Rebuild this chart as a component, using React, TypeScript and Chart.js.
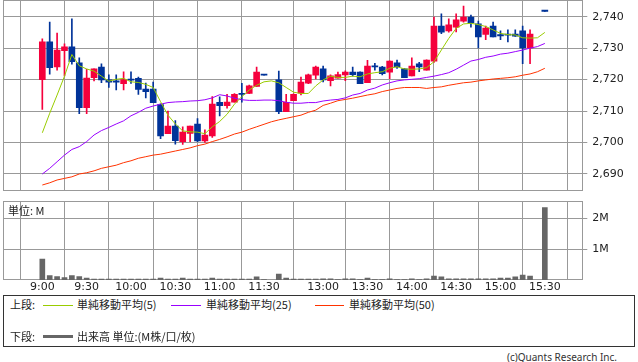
import React, { useEffect, useRef } from "react";
import { Chart, registerables } from "chart.js";

Chart.register(...registerables);

// ---- data ----
const timeLabels = ["9:00", "9:30", "10:00", "10:30", "11:00", "11:30", "13:00", "13:30", "14:00", "14:30", "15:00", "15:30"];
const timeTickIndex = [0, 6, 12, 18, 24, 30, 38, 44, 50, 56, 62, 68];
const priceTicks = [2690, 2700, 2710, 2720, 2730, 2740];
const volumeTicks = [1, 2];

const opens = [
  2720, 2732, 2724, 2729.2, 2730.4, 2725.3, 2711.1, 2720.6, 2724, 2719.9,
  2719.3, 2718.7, 2719.9, 2720.4, 2717, 2717, 2712.1, 2702.8, 2705.2, 2700.3,
  2702.9, 2705.9, 2700.5, 2702.1, 2712.8, 2711.7, 2712.8, 2715.4, 2715.6, 2717.8,
  2721.4, null, 2719.9, 2709.8, 2713.3, 2715.7, 2718.9, 2721.4, 2723.4, 2719.7,
  2720.5, 2721.5, 2722.4, 2722.4, 2719, 2724.1, 2724, 2722.4, 2725.3, 2723.4,
  2721.2, 2725, 2723, 2725.9, 2737, 2735.5, 2736.7, 2738.6, 2739.9, 2737.7,
  2734.4, 2737, 2734, 2734.2, 2734.5, 2735.5, 2730.1, null, 2741.7,
];
const highs = [
  2733, 2738.3, 2734.8, 2731.4, 2739.3, 2726.9, 2723.3, 2723.4, 2725, 2721.5,
  2721.5, 2722.5, 2722.5, 2720.8, 2718.9, 2719.2, 2712.3, 2710, 2707, 2705,
  2705.2, 2707.6, 2704, 2714.6, 2714.5, 2715.3, 2715.6, 2718.8, 2718.3, 2724,
  2721.4, null, 2722.7, 2715.3, 2715.5, 2720.8, 2721.8, 2724.3, 2724.3, 2721.5,
  2722.4, 2722.8, 2724, 2722.5, 2726.1, 2725.2, 2724.2, 2726, 2726.2, 2723.5,
  2726.9, 2725.5, 2726.3, 2739.9, 2740.9, 2739.3, 2740.9, 2743.4, 2740.5, 2738.6,
  2737, 2738.3, 2735.5, 2735.8, 2735.8, 2737, 2735.8, null, 2741.7,
];
const lows = [
  2710.5, 2721.7, 2723, 2721.2, 2724.9, 2709.2, 2709.2, 2719.6, 2719, 2717.5,
  2716.7, 2716.7, 2718.8, 2715.3, 2714.2, 2712.7, 2701.2, 2702.8, 2699.5, 2699.4,
  2700.3, 2700.3, 2700, 2701.6, 2708.5, 2710.9, 2712.8, 2712.8, 2715.5, 2717.8,
  2721.4, null, 2709.2, 2709.8, 2713.3, 2715.1, 2718.7, 2720.2, 2719.3, 2718,
  2720.5, 2719.7, 2721.1, 2718.7, 2719, 2723, 2721.5, 2720.3, 2723.6, 2720.6,
  2721.2, 2722.5, 2723, 2725.5, 2734.6, 2735.1, 2735.2, 2738.3, 2736.7, 2730.1,
  2732.7, 2733.6, 2732.7, 2732, 2733.7, 2725.1, 2725.1, null, 2741.7,
];
const closes = [
  2732, 2723.8, 2729.4, 2730.4, 2725.7, 2711.1, 2720.5, 2723.4, 2719.9, 2719.2,
  2719.2, 2720, 2719.8, 2716.9, 2716.2, 2712.7, 2702.1, 2705.2, 2700.6, 2703.3,
  2705.2, 2700.5, 2702.4, 2712.2, 2711.7, 2712.9, 2715.3, 2715.3, 2718, 2722.4,
  2721.4, null, 2709.8, 2712.8, 2715.3, 2719.2, 2721.5, 2724, 2719.9, 2721.2,
  2721.6, 2722.4, 2721.6, 2718.7, 2724.3, 2724, 2721.9, 2725.9, 2724, 2720.6,
  2724.3, 2724, 2726.2, 2737, 2735.1, 2737.4, 2739, 2739.9, 2738, 2733.6,
  2736.4, 2733.6, 2733.9, 2734.1, 2733.8, 2730.1, 2734.5, null, 2741.7,
];
const ma5 = [
  2703.1, 2709.3, 2715.1, 2721.1, 2728.0, 2724.4, 2723.4, 2722.7, 2721.1, 2719.5,
  2720.1, 2720.4, 2719.3, 2719.1, 2718.5, 2717.5, 2713.0, 2708.7, 2705.9, 2703.7,
  2703.4, 2703.3, 2702.8, 2705.0, 2706.7, 2709.0, 2712.2, 2714.6, 2716.7, 2718.2,
  2719.3, 2719.6, 2719.0, 2717.5, 2716.0, 2715.6, 2715.6, 2718.0, 2719.9, 2721.1,
  2720.7, 2720.7, 2721.1, 2720.9, 2721.8, 2722.2, 2722.5, 2723.6, 2724.1, 2723.4,
  2723.3, 2723.4, 2723.8, 2725.7, 2729.4, 2733.1, 2736.3, 2737.7, 2737.9, 2737.5,
  2736.9, 2735.8, 2734.7, 2734.3, 2734.2, 2733.3, 2733.2, 2733.3, 2735.0,
];
const ma25 = [
  2690.0, 2691.8, 2693.9, 2696.0, 2697.8, 2698.7, 2700.3, 2702.4, 2703.8, 2704.8,
  2705.9, 2706.9, 2708.5, 2709.6, 2710.9, 2711.6, 2712.2, 2712.7, 2712.9, 2713.0,
  2713.2, 2713.3, 2713.6, 2714.2, 2715.2, 2714.8, 2714.1, 2713.6, 2713.4, 2713.4,
  2713.5, 2713.5, 2713.3, 2712.8, 2712.5, 2712.5, 2712.7, 2712.7, 2713.2, 2713.5,
  2713.7, 2714.2, 2715.1, 2715.6, 2716.7, 2717.3, 2718.3, 2719.0, 2719.6, 2719.9,
  2720.1, 2720.3, 2720.7, 2721.1, 2721.6, 2722.2, 2723.3, 2724.6, 2725.9, 2726.4,
  2727.1, 2727.5, 2728.1, 2728.4, 2728.9, 2729.4, 2730.0, 2730.5, 2731.5,
];
const ma50 = [
  2686.5, 2687.2, 2688.1, 2688.6, 2689.1, 2690.0, 2690.4, 2691.0, 2691.8, 2692.3,
  2692.8, 2693.6, 2694.2, 2695.0, 2695.5, 2696.0, 2696.3, 2696.8, 2697.3, 2697.8,
  2698.3, 2699.0, 2699.5, 2700.3, 2701.0, 2701.8, 2702.7, 2703.3, 2704.2, 2705.0,
  2705.8, 2706.6, 2707.2, 2707.7, 2708.2, 2708.7, 2709.6, 2710.3, 2711.8, 2712.5,
  2713.3, 2713.7, 2714.1, 2714.6, 2715.1, 2715.5, 2716.2, 2716.7, 2717.2, 2717.5,
  2717.5, 2717.5, 2717.2, 2717.5, 2717.7, 2718.2, 2718.6, 2719.0, 2719.2, 2719.6,
  2719.9, 2720.2, 2720.4, 2720.6, 2720.9, 2721.4, 2721.8, 2722.5, 2723.6,
];
const volumes = [
  0.68, 0.14, 0.11, 0.075, 0.14, 0.11, 0.065, 0.03, 0.03, 0.03,
  0.03, 0.03, 0.03, 0.03, 0.03, 0.03, 0.065, 0.03, 0.03, 0.065,
  0.03, 0.03, 0.03, 0.065, 0.03, 0.03, 0.03, 0.03, 0.03, 0.1,
  0.01, null, 0.19, 0.065, 0.03, 0.03, 0.03, 0.03, 0.035, 0.035,
  0.01, 0.035, 0.035, 0.01, 0.065, 0.01, 0.01, 0.035, 0.01, 0.01,
  0.035, 0.01, 0.035, 0.13, 0.1, 0.035, 0.035, 0.035, 0.035, 0.035,
  0.035, 0.035, 0.065, 0.065, 0.1, 0.16, 0.13, null, 2.35,
];

// ---- styles ----
const GRID = "#999999";
const UP = "#f5003c";
const DOWN = "#003399";
const C_MA5 = "#99cc00";
const C_MA25 = "#9900ff";
const C_MA50 = "#ff3300";
const VOL = "#666666";
const X_MIN = -5.28;
const X_MAX = 73.07;
const AXIS_W = 55.7;
const NUM_FONT = { family: "DejaVu Sans", size: 11 };
const CJK = "'Noto Sans CJK JP', 'Noto Sans', sans-serif";

const frame = {
  id: "frame",
  beforeDatasetsDraw(chart: any) {
    const { ctx, chartArea: a } = chart;
    ctx.save();
    ctx.strokeStyle = GRID;
    ctx.lineWidth = 1;
    const l = Math.round(a.left) + 0.5;
    const t = Math.round(a.top) + 0.5;
    const r = Math.round(a.right) + 0.5;
    const b = Math.round(a.bottom) - 0.5;
    ctx.strokeRect(l, t, r - l, b - t);
    ctx.restore();
  },
};

function candleColor(i: number) {
  return (closes[i] as number) > (opens[i] as number) ? UP : DOWN;
}

export default function App() {
  const priceRef = useRef<HTMLCanvasElement>(null);
  const volRef = useRef<HTMLCanvasElement>(null);

  useEffect(() => {
    const idx = opens.map((_, i) => i).filter((i) => opens[i] !== null);
    const colors = idx.map((i) => candleColor(i));

    const price = new Chart(priceRef.current as HTMLCanvasElement, {
      type: "bar",
      data: {
        datasets: [
          {
            type: "line",
            data: ma5.map((v, i) => ({ x: i, y: v })),
            borderColor: C_MA5,
            borderWidth: 1,
            pointRadius: 0,
            tension: 0,
            order: 0,
          } as any,
          {
            type: "line",
            data: ma25.map((v, i) => ({ x: i, y: v })),
            borderColor: C_MA25,
            borderWidth: 1,
            pointRadius: 0,
            tension: 0,
            order: 0,
          } as any,
          {
            type: "line",
            data: ma50.map((v, i) => ({ x: i, y: v })),
            borderColor: C_MA50,
            borderWidth: 1,
            pointRadius: 0,
            tension: 0,
            order: 0,
          } as any,
          {
            type: "bar",
            data: idx.map((i) => ({ x: i, y: [opens[i], closes[i]] })),
            backgroundColor: colors,
            borderWidth: 0,
            barThickness: 6,
            minBarLength: 1.2,
            grouped: false,
            order: 1,
          } as any,
          {
            type: "bar",
            data: idx.map((i) => ({ x: i, y: [lows[i], highs[i]] })),
            backgroundColor: colors,
            borderWidth: 0,
            barThickness: 1,
            minBarLength: 1,
            grouped: false,
            order: 2,
          } as any,
        ],
      },
      options: {
        responsive: false,
        animation: false,
        events: [],
        layout: { padding: { left: 3.3, top: 0, right: 0, bottom: 1.3 } },
        plugins: { legend: { display: false }, tooltip: { enabled: false } },
        scales: {
          x: {
            type: "linear",
            min: X_MIN,
            max: X_MAX,
            offset: false,
            afterBuildTicks: (s: any) => {
              s.ticks = timeTickIndex.map((v) => ({ value: v }));
            },
            ticks: { display: false },
            grid: { color: GRID, drawTicks: false, lineWidth: 1 },
            border: { display: false },
            afterFit: (s: any) => {
              s.height = 0;
              s.paddingLeft = 0;
              s.paddingRight = 0;
            },
          },
          y: {
            position: "right",
            min: 2684.69,
            max: 2745.31,
            afterBuildTicks: (s: any) => {
              s.ticks = priceTicks.map((v) => ({ value: v }));
            },
            ticks: {
              color: "#222",
              font: NUM_FONT,
              padding: 5,
              callback: (v: any) => Number(v).toLocaleString("en-US"),
            },
            grid: { color: GRID, tickLength: 5, lineWidth: 1 },
            border: { display: false },
            afterFit: (s: any) => {
              s.width = AXIS_W;
              s.paddingTop = 0;
              s.paddingBottom = 0;
            },
          },
        },
      } as any,
      plugins: [frame],
    });

    const vidx = volumes.map((_, i) => i).filter((i) => volumes[i] !== null);
    const vol = new Chart(volRef.current as HTMLCanvasElement, {
      type: "bar",
      data: {
        datasets: [
          {
            data: vidx.map((i) => ({ x: i, y: volumes[i] })),
            backgroundColor: VOL,
            borderWidth: 0,
            barThickness: 5,
          },
        ],
      },
      options: {
        responsive: false,
        animation: false,
        events: [],
        layout: { padding: { left: 3.3, top: 6, right: 0, bottom: 0 } },
        plugins: { legend: { display: false }, tooltip: { enabled: false } },
        scales: {
          x: {
            type: "linear",
            min: X_MIN,
            max: X_MAX,
            offset: false,
            afterBuildTicks: (s: any) => {
              s.ticks = timeTickIndex.map((v) => ({ value: v }));
            },
            ticks: {
              color: "#222",
              font: NUM_FONT,
              padding: 1,
              maxRotation: 0,
              autoSkip: false,
              callback: (v: any) => {
                const k = timeTickIndex.indexOf(Number(v));
                return k >= 0 ? timeLabels[k] : "";
              },
            },
            grid: { color: GRID, drawTicks: false, lineWidth: 1 },
            border: { display: false },
            afterFit: (s: any) => {
              s.height = 15;
              s.paddingLeft = 0;
              s.paddingRight = 0;
            },
          },
          y: {
            position: "right",
            min: 0,
            max: 2.56,
            afterBuildTicks: (s: any) => {
              s.ticks = volumeTicks.map((v) => ({ value: v }));
            },
            ticks: {
              color: "#222",
              font: NUM_FONT,
              padding: 5,
              callback: (v: any) => v + "M",
            },
            grid: { color: GRID, tickLength: 5, lineWidth: 1 },
            border: { display: false },
            afterFit: (s: any) => {
              s.width = AXIS_W;
              s.paddingTop = 0;
              s.paddingBottom = 0;
            },
          },
        },
      } as any,
      plugins: [frame],
    });

    return () => {
      price.destroy();
      vol.destroy();
    };
  }, []);

  const txt: React.CSSProperties = {
    position: "absolute",
    fontFamily: CJK,
    fontSize: 11,
    lineHeight: "13px",
    color: "#222",
    whiteSpace: "nowrap",
  };
  const line = (left: number, top: number, width: number, color: string, h = 1): React.CSSProperties => ({
    position: "absolute",
    left,
    top,
    width,
    height: h,
    background: color,
  });

  return (
    <div
      style={{
        position: "fixed",
        left: 0,
        top: 0,
        width: 638,
        height: 362,
        background: "#fff",
        overflow: "hidden",
      }}
    >
      <canvas
        ref={priceRef}
        width={638}
        height={192}
        style={{ position: "absolute", left: 0, top: 0, display: "block" }}
      />
      <canvas
        ref={volRef}
        width={638}
        height={100}
        style={{ position: "absolute", left: 0, top: 195, display: "block" }}
      />
      <div style={{ ...txt, left: 8, top: 204 }}>単位: M</div>

      <div
        style={{
          position: "absolute",
          left: 3,
          top: 295,
          width: 632,
          height: 52,
          border: "1px solid #333",
          boxSizing: "border-box",
        }}
      />
      <div style={{ ...txt, left: 10, top: 298 }}>上段:</div>
      <div style={line(43, 305, 30, C_MA5)} />
      <div style={{ ...txt, left: 77, top: 298 }}>単純移動平均(5)</div>
      <div style={line(171, 305, 30, C_MA25)} />
      <div style={{ ...txt, left: 206, top: 298 }}>単純移動平均(25)</div>
      <div style={line(315, 305, 29, C_MA50)} />
      <div style={{ ...txt, left: 349, top: 298 }}>単純移動平均(50)</div>

      <div style={{ ...txt, left: 10, top: 330 }}>下段:</div>
      <div style={line(43, 335, 30, VOL, 3)} />
      <div style={{ ...txt, left: 77, top: 330 }}>出来高 単位:(M株/口/枚)</div>

      <div
        style={{
          ...txt,
          fontFamily: "'Noto Sans', sans-serif",
          fontSize: 10,
          left: "auto",
          right: 21,
          top: 351,
          color: "#333",
        }}
      >
        (c)Quants Research Inc.
      </div>
    </div>
  );
}
